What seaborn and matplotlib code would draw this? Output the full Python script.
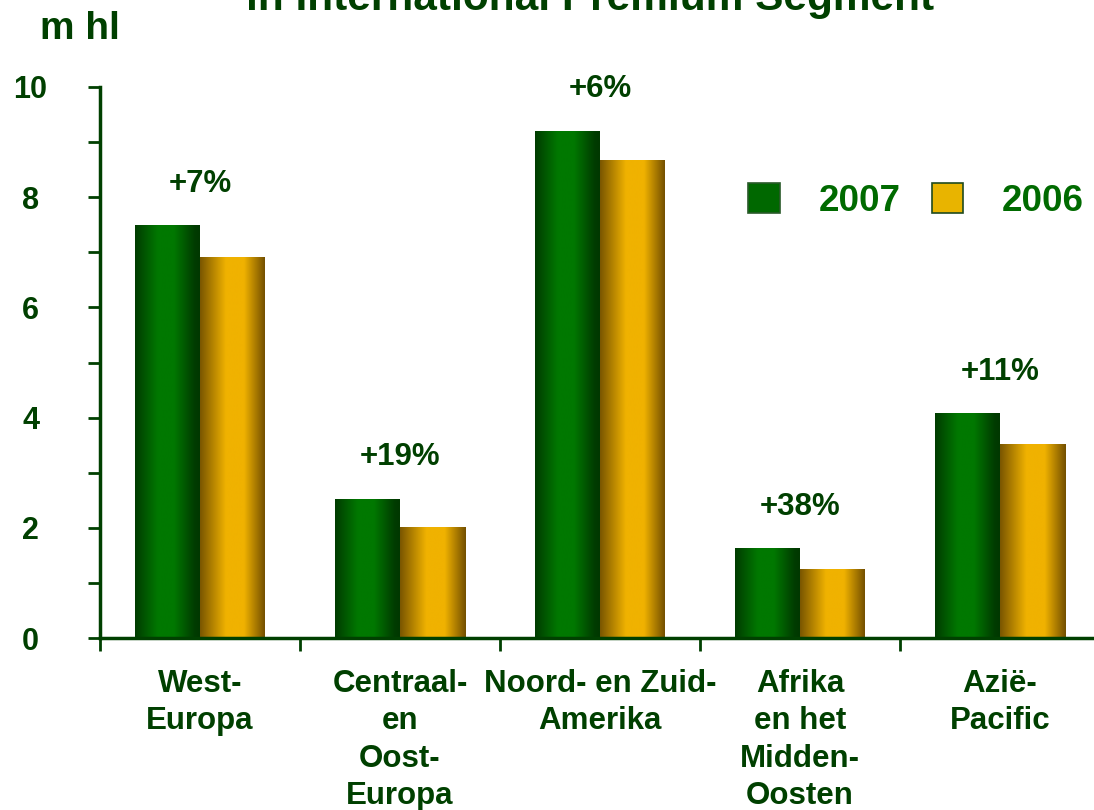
import numpy as np
import pandas as pd
import matplotlib
matplotlib.use("Agg")
import matplotlib.pyplot as plt
from matplotlib.colors import LinearSegmentedColormap
from matplotlib.patches import Patch
import seaborn as sns

regions = ["West-\nEuropa", "Centraal-\nen\nOost-\nEuropa", "Noord- en Zuid-\nAmerika",
           "Afrika\nen het\nMidden-\nOosten", "Azië-\nPacific"]
vol_2007 = [7.48, 2.52, 9.20, 1.63, 4.08]
vol_2006 = [6.91, 2.01, 8.66, 1.25, 3.52]
growth = ["+7%", "+19%", "+6%", "+38%", "+11%"]
years = ["2007", "2006"]

df = pd.DataFrame({
    "region": regions * 2,
    "year": ["2007"] * len(regions) + ["2006"] * len(regions),
    "value": vol_2007 + vol_2006,
})

dark = "#004000"
bright = "#006a00"

sns.set_style("ticks")
plt.rcParams["font.family"] = ["Liberation Sans", "DejaVu Sans"]
plt.rcParams["font.weight"] = "bold"

fig = plt.figure(figsize=(10.94, 8.10), dpi=100)
ax = fig.add_axes([100 / 1094, 1 - 638 / 810, 994 / 1094, 551 / 810])

sns.barplot(data=df, x="region", y="value", hue="year", hue_order=years,
            palette=["#007000", "#e8b000"], width=0.65, legend=False, ax=ax,
            saturation=1, linewidth=0)

# gradient fill (cylinder look)
green_cm = LinearSegmentedColormap.from_list(
    "g", [(0, "#003c00"), (0.35, "#007800"), (0.6, "#007800"), (0.92, "#003c00"), (1, "#003800")])
gold_cm = LinearSegmentedColormap.from_list(
    "y", [(0, "#7a5600"), (0.4, "#f0b200"), (0.68, "#f0b200"), (1, "#745000")])
grad = np.linspace(0, 1, 200).reshape(1, -1)
n = len(regions)
for k, p in enumerate(ax.patches):
    x0, y0 = p.get_xy()
    w, h = p.get_width(), p.get_height()
    cm = green_cm if k < n else gold_cm
    ax.imshow(grad, cmap=cm, extent=[x0, x0 + w, y0, y0 + h], aspect="auto",
              zorder=2, interpolation="bilinear")
    p.set_facecolor("none")

ax.set_xlim(-0.5, 4.47)
ax.set_ylim(0, 10)
ax.set_xlabel("")
ax.set_ylabel("")

for side in ["top", "right"]:
    ax.spines[side].set_visible(False)
for side in ["left", "bottom"]:
    ax.spines[side].set_color(dark)
    ax.spines[side].set_linewidth(2.5)
    ax.spines[side].set_zorder(3)

ax.set_yticks(range(0, 11, 2))
ax.set_yticks(range(1, 11, 2), minor=True)
ax.set_yticklabels([str(v) for v in range(0, 11, 2)], ha="center")
ax.tick_params(axis="y", which="both", left=True, direction="out", length=9, width=2,
               color=dark, labelsize=22, labelcolor=dark, pad=41)
ax.set_xticks(range(n))
ax.set_xticklabels(regions, linespacing=1.33)
ax.set_xticks(np.arange(-0.5, 4.0, 1), minor=True)
ax.tick_params(axis="x", which="major", bottom=True, length=0, labelsize=22.5,
               labelcolor=dark, pad=22)
ax.tick_params(axis="x", which="minor", bottom=True, direction="out", length=9,
               width=2, color=dark)
for t in ax.get_xticklabels():
    t.set_multialignment("center")

for i, g in enumerate(growth):
    ax.annotate(g, xy=(i, vol_2007[i]), xytext=(0, 30), textcoords="offset points",
                ha="center", va="center", fontsize=22.5, fontweight="bold", color=dark)

handles = [Patch(facecolor="#006800", edgecolor="#2a5a2a", linewidth=1.2),
           Patch(facecolor="#e8b400", edgecolor="#1f4a1f", linewidth=1.2)]
leg = fig.legend(handles, years, loc="center left",
                 bbox_to_anchor=(748 / 1094, 1 - 201 / 810), ncol=2, frameon=False,
                 handlelength=0.86, handleheight=0.86, handletextpad=1.05,
                 columnspacing=0.85, borderpad=0, borderaxespad=0,
                 prop={"size": 26.5, "weight": "bold"})
for t in leg.get_texts():
    t.set_color(bright)

fig.text(590 / 1094, 1 - 10 / 810, "in International Premium Segment", ha="center",
         va="baseline", fontsize=30.5, fontweight="bold", color=dark)
fig.text(40 / 1094, 1 - 39 / 810, "m hl", ha="left", va="baseline",
         fontsize=28, fontweight="bold", color=dark)

fig.savefig("out.png", dpi=100)
